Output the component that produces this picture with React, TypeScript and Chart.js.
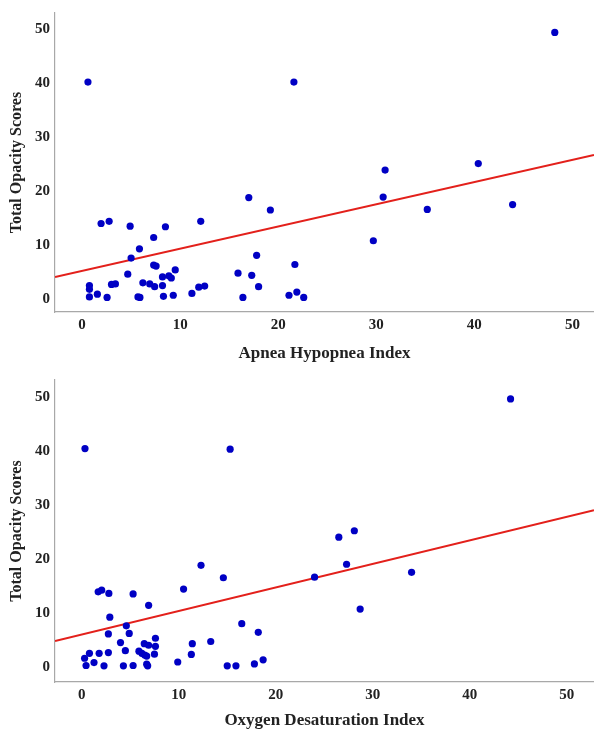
import React, { useEffect, useRef } from "react";
import { Chart, registerables } from "chart.js";

Chart.register(...registerables);

// ---- Data: Apnea Hypopnea Index vs Total Opacity Scores ----
const ahiX = [
  0.6, 0.75, 0.75, 0.75, 1.56, 2.55, 1.94, 2.76, 3.0, 3.4, 4.66, 4.9, 5.0, 5.85, 5.7, 5.9, 6.2, 6.9,
  7.3, 7.3, 7.55, 7.4, 8.2, 8.2, 8.3, 8.5, 8.85, 9.1, 9.5, 9.3, 11.2, 11.9, 12.5, 12.1, 15.9, 16.4,
  17.0, 17.3, 17.8, 18.0, 19.2, 21.1, 21.6, 21.7, 21.9, 22.6, 29.7, 30.7, 30.9, 35.2, 40.4, 43.9, 48.2,
];
const ahiY = [
  40.2, 2.5, 1.8, 0.4, 0.9, 0.3, 14.0, 14.4, 2.7, 2.8, 4.6, 13.5, 7.6, 9.3, 0.4, 0.3, 3.0, 2.8,
  11.4, 6.3, 6.1, 2.3, 4.1, 2.5, 0.5, 13.4, 4.3, 3.9, 5.4, 0.7, 1.05, 2.2, 2.4, 14.4, 4.8, 0.3,
  18.8, 4.4, 8.1, 2.3, 16.5, 0.7, 40.2, 6.4, 1.3, 0.3, 10.8, 18.9, 23.9, 16.6, 25.1, 17.5, 49.4,
];
const ahiFitX = [-2.76, 52.2];
const ahiFitY = [4.1, 26.7];

// ---- Data: Oxygen Desaturation Index vs Total Opacity Scores ----
const odiX = [
  0.34, 15.3, 12.3, 14.6, 1.7, 2.06, 2.8, 5.3, 10.5, 6.9, 2.9, 4.6, 16.5, 18.2, 2.75, 4.9, 7.6, 4.0,
  6.45, 6.9, 7.6, 13.3, 11.4, 4.5, 0.8, 1.8, 2.75, 0.3, 1.27, 0.45, 2.3, 4.3, 5.3, 5.9, 6.2, 6.5,
  6.7, 7.5, 6.7, 6.8, 9.9, 11.3, 15.0, 15.9, 17.8, 18.7, 44.2, 26.5, 28.1, 27.3, 24.0, 34.0, 28.7,
];
const odiY = [
  40.4, 40.3, 18.8, 16.5, 13.9, 14.2, 13.6, 13.5, 14.4, 11.4, 9.2, 7.6, 8.0, 6.4, 6.1, 6.2, 5.3, 4.5,
  4.3, 4.0, 3.8, 4.7, 4.3, 3.0, 2.5, 2.5, 2.65, 1.6, 0.8, 0.25, 0.2, 0.2, 0.25, 2.9, 2.5, 2.2,
  2.0, 2.35, 0.5, 0.2, 0.9, 2.3, 0.2, 0.2, 0.55, 1.3, 49.6, 24.0, 25.2, 19.0, 16.6, 17.5, 10.7,
];
const odiFitX = [-2.75, 52.8];
const odiFitY = [4.8, 29.0];

const yTicks = [0, 10, 20, 30, 40, 50];
const xTicks = [0, 10, 20, 30, 40, 50];

const FONT = "'Liberation Serif', 'Times New Roman', serif";

type PanelProps = {
  xs: number[];
  ys: number[];
  fitX: number[];
  fitY: number[];
  xTitle: string;
  xMin: number;
  xMax: number;
  yMin: number;
  yMax: number;
  width: number;
  height: number;
  padTop: number;
  xAxisHeight: number;
  xTitlePadBottom: number;
};

function Panel(p: PanelProps) {
  const ref = useRef<HTMLCanvasElement | null>(null);
  useEffect(() => {
    if (!ref.current) return;
    const pts = p.xs.map((x, i) => ({ x, y: p.ys[i] }));
    const fit = p.fitX.map((x, i) => ({ x, y: p.fitY[i] }));
    const chart = new Chart(ref.current, {
      type: "scatter",
      data: {
        datasets: [
          {
            type: "line",
            data: fit,
            borderColor: "#e3201b",
            borderWidth: 2,
            pointRadius: 0,
            fill: false,
            order: 1,
          } as any,
          {
            type: "scatter",
            data: pts,
            backgroundColor: "#0000c4",
            borderWidth: 0,
            pointRadius: 3.6,
            order: 0,
          },
        ],
      },
      options: {
        responsive: false,
        animation: false,
        devicePixelRatio: 1,
        layout: {
          autoPadding: false,
          padding: { top: p.padTop, left: 0, right: 0, bottom: 0 },
        },
        plugins: { legend: { display: false }, tooltip: { enabled: false } },
        scales: {
          x: {
            type: "linear",
            min: p.xMin,
            max: p.xMax,
            afterFit: (s: any) => {
              s.height = p.xAxisHeight;
              s.paddingLeft = 0;
              s.paddingRight = 0;
            },
            afterBuildTicks: (s: any) => {
              s.ticks = xTicks.map((v) => ({ value: v }));
            },
            grid: { display: false, drawTicks: false },
            border: { display: true, color: "#a8a8a8", width: 1.2 },
            ticks: {
              autoSkip: false,
              maxRotation: 0,
              padding: 4,
              color: "#222",
              font: { family: FONT, size: 15, weight: "bold" },
            },
            title: {
              display: true,
              text: p.xTitle,
              color: "#222",
              font: { family: FONT, size: 17, weight: "bold" },
              padding: { top: 0, bottom: p.xTitlePadBottom },
            },
          },
          y: {
            type: "linear",
            min: p.yMin,
            max: p.yMax,
            afterFit: (s: any) => {
              s.width = 55;
              s.paddingTop = 0;
              s.paddingBottom = 0;
            },
            afterBuildTicks: (s: any) => {
              s.ticks = yTicks.map((v) => ({ value: v }));
            },
            grid: { display: false, drawTicks: false },
            border: { display: true, color: "#a8a8a8", width: 1.2 },
            ticks: {
              autoSkip: false,
              padding: 5,
              color: "#222",
              font: { family: FONT, size: 15, weight: "bold" },
            },
            title: {
              display: true,
              text: "Total Opacity Scores",
              color: "#222",
              font: { family: FONT, size: 16, weight: "bold" },
              padding: { top: 7, bottom: 0 },
            },
          },
        },
      },
    });
    return () => chart.destroy();
  }, []);
  return (
    <canvas
      ref={ref}
      width={p.width}
      height={p.height}
      style={{ display: "block", width: p.width, height: p.height }}
    />
  );
}

export default function App() {
  return (
    <div
      style={{
        position: "fixed",
        left: 0,
        top: 0,
        width: 594,
        height: 731,
        overflow: "hidden",
        background: "#fff",
      }}
    >
      <div style={{ position: "absolute", left: 0, top: 0 }}>
        <Panel
          xs={ahiX}
          ys={ahiY}
          fitX={ahiFitX}
          fitY={ahiFitY}
          xTitle="Apnea Hypopnea Index"
          xMin={-2.76}
          xMax={52.2}
          yMin={-2.4}
          yMax={53}
          width={594}
          height={370}
          padTop={13}
          xAxisHeight={58}
          xTitlePadBottom={6}
        />
      </div>
      <div style={{ position: "absolute", left: 0, top: 370 }}>
        <Panel
          xs={odiX}
          ys={odiY}
          fitX={odiFitX}
          fitY={odiFitY}
          xTitle="Oxygen Desaturation Index"
          xMin={-2.75}
          xMax={52.8}
          yMin={-2.8}
          yMax={53.1}
          width={594}
          height={361}
          padTop={10}
          xAxisHeight={49}
          xTitlePadBottom={0}
        />
      </div>
    </div>
  );
}
